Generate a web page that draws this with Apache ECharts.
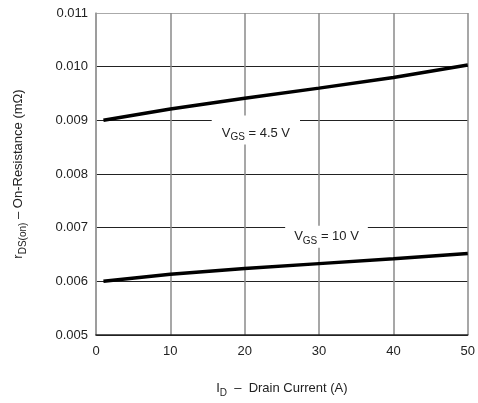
<!DOCTYPE html>
<html>
<head>
<meta charset="utf-8">
<script src="https://cdn.jsdelivr.net/npm/echarts@6/dist/echarts.min.js"></script>
<style>html,body{margin:0;padding:0;background:#fff}#c{width:478px;height:403px}</style>
</head>
<body>
<div id="c"></div>
<script>
var current = [1, 10, 20, 30, 40, 50];
var rds45 = [0.00900, 0.00921, 0.00941, 0.00960, 0.00980, 0.01003];
var rds10 = [0.00600, 0.00613, 0.00624, 0.00633, 0.00642, 0.00652];
var xTicks = [0, 10, 20, 30, 40, 50];
var yTicks = ['0.005', '0.006', '0.007', '0.008', '0.009', '0.010', '0.011'];

function pairs(xs, ys) { return xs.map(function (x, i) { return [x, ys[i]]; }); }

var font = 'Liberation Sans, Arial, sans-serif';
var rich = {
  a: { fontFamily: font, fontSize: 13, color: '#222', lineHeight: 15, verticalAlign: 'bottom', padding: [0, 0, 3, 0] },
  s: { fontFamily: font, fontSize: 10, color: '#222', lineHeight: 10, verticalAlign: 'bottom' }
};

var chart = echarts.init(document.getElementById('c'), null, { renderer: 'canvas' });
chart.setOption({
  animation: false,
  backgroundColor: '#fff',
  grid: { left: 96, top: 13, right: 8, bottom: 67 },
  xAxis: {
    type: 'value', min: 0, max: 50, interval: 10,
    axisLine: { lineStyle: { color: '#222', width: 1.5 } },
    axisTick: { show: false },
    axisLabel: { color: '#222', fontFamily: font, fontSize: 13, margin: 10,
      formatter: function (v) { return xTicks.indexOf(v) >= 0 ? String(v) : ''; } },
    splitLine: { show: true, lineStyle: { color: '#8a8a8a', width: 1.5 } },
    name: '{a|I}{s|D}{a|  –  Drain Current (A)}',
    nameLocation: 'middle', nameGap: 48,
    nameTextStyle: { rich: rich }
  },
  yAxis: {
    type: 'value', min: 0.005, max: 0.011, interval: 0.001,
    axisLine: { show: true, lineStyle: { color: '#9a9a9a', width: 1.5 } },
    axisTick: { show: false },
    axisLabel: { color: '#222', fontFamily: font, fontSize: 13, margin: 8,
      formatter: function (v) { var s = v.toFixed(3); return yTicks.indexOf(s) >= 0 ? s : ''; } },
    splitLine: { show: true, lineStyle: { color: ['#222', '#222', '#222', '#222', '#222', '#222', '#aaaaaa'], width: 1.2 } },
    name: '{a|r}{s|DS(on)}{a| – On-Resistance (mΩ)}',
    nameLocation: 'middle', nameGap: 68,
    nameTextStyle: { rich: rich }
  },
  series: [
    {
      type: 'line', data: pairs(current, rds45), showSymbol: false, symbol: 'none',
      lineStyle: { color: '#000', width: 3.5 }, z: 3,
      markPoint: {
        symbol: 'rect', symbolSize: 0,
        label: {
          show: true, position: 'inside', backgroundColor: '#fff',
          padding: [12, 10, 2, 10],
          formatter: '{a|V}{s|GS}{a| = 4.5 V}', rich: rich
        },
        data: [{ coord: [21.5, 0.00882], value: 0 }]
      }
    },
    {
      type: 'line', data: pairs(current, rds10), showSymbol: false, symbol: 'none',
      lineStyle: { color: '#000', width: 3.5 }, z: 3,
      markPoint: {
        symbol: 'rect', symbolSize: 0,
        label: {
          show: true, position: 'inside', backgroundColor: '#fff',
          padding: [5, 9, 2, 9],
          formatter: '{a|V}{s|GS}{a| = 10 V}', rich: rich
        },
        data: [{ coord: [31.0, 0.00683], value: 0 }]
      }
    }
  ]
});
</script>
</body>
</html>
